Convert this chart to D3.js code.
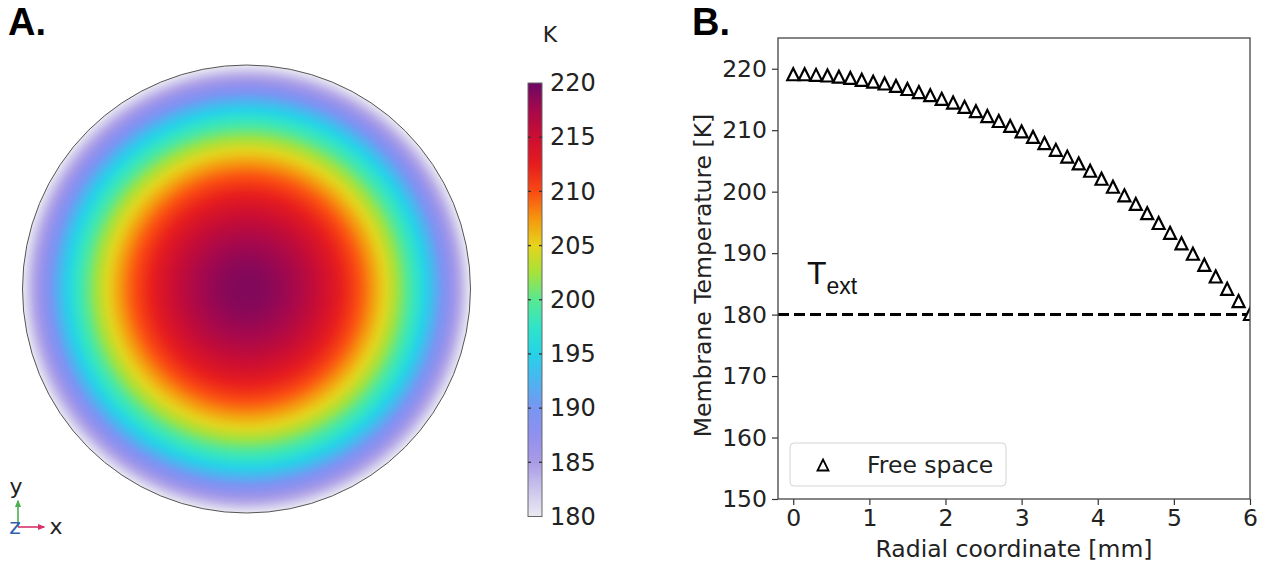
<!DOCTYPE html>
<html><head><meta charset="utf-8">
<script src="https://cdn.jsdelivr.net/npm/d3@7/dist/d3.min.js"></script>
<style>
body{margin:0;background:#fff;}
svg{display:block;font-family:'DejaVu Sans',sans-serif;}
</style>
</head><body>
<svg id="c" width="1279" height="569"></svg>
<script>
// ---------- data ----------
const radialCoord = [0,0.15,0.3,0.45,0.6,0.75,0.9,1.05,1.2,1.35,1.5,1.65,1.8,1.95,2.1,2.25,2.4,2.55,2.7,2.85,3.0,3.15,3.3,3.45,3.6,3.75,3.9,4.05,4.2,4.35,4.5,4.65,4.8,4.95,5.1,5.25,5.4,5.55,5.7,5.85,6.0];
const membraneTemp = [219.1,219.1,219.0,218.9,218.7,218.5,218.2,217.9,217.6,217.2,216.7,216.2,215.7,215.1,214.5,213.8,213.1,212.3,211.5,210.7,209.8,208.9,207.9,206.8,205.7,204.6,203.4,202.1,200.8,199.4,198.0,196.5,194.9,193.3,191.6,189.9,188.1,186.2,184.2,182.2,180.1];
const externalTemp = 180;
const seriesName = "Free space";
const xTicks = [0,1,2,3,4,5,6];
const yTicks = [150,160,170,180,190,200,210,220];
const cbarTicks = [180,185,190,195,200,205,210,215,220];
const cmapValues = [180,182.5,185,187.5,190,192.5,195,197.5,200,202.5,205,207.5,210,212.5,215,217.5,220];
const cmapColors = ["#ebeaf2","#cbc5ec","#a99be6","#9190ee","#7896f2","#4cb4f0","#26d2e8","#30e4c8","#58e892","#a6e23a","#e6d41c","#f6960e","#fa4a12","#e61c1e","#cc0e32","#a6084c","#6c0864"];

// ---------- setup ----------
const svg = d3.select('#c');
const defs = svg.append('defs');
const color = d3.scaleLinear().domain(cmapValues).range(cmapColors).clamp(true);
const FS = 23.5;

// ---------- Panel A ----------
svg.append('text').attr('x',8).attr('y',35).attr('font-family','Liberation Sans, Arial, sans-serif')
  .attr('font-weight','bold').attr('font-size',38).text('A.');

const cx = 246.5, cy = 289, R = 224;
const rOffset = d3.scaleLinear().domain([0,6]).range([0,1]);
const rg = defs.append('radialGradient').attr('id','disc').attr('cx','50%').attr('cy','50%').attr('r','50%');
rg.selectAll('stop').data(radialCoord).join('stop')
  .attr('offset', d => rOffset(d))
  .attr('stop-color', (d,i) => color(membraneTemp[i]));
svg.append('circle').attr('cx',cx).attr('cy',cy).attr('r',R)
  .attr('fill','url(#disc)').attr('stroke','#555').attr('stroke-width',1);

// colorbar
const cbX = 528, cbW = 14;
const cbY = d3.scaleLinear().domain([180,220]).range([516.5,83]);
const lg = defs.append('linearGradient').attr('id','cbar').attr('x1',0).attr('y1',1).attr('x2',0).attr('y2',0);
lg.selectAll('stop').data(cmapValues).join('stop')
  .attr('offset', d => (d-180)/40).attr('stop-color', d => color(d));
svg.append('rect').attr('x',cbX).attr('y',cbY(220)).attr('width',cbW).attr('height',cbY(180)-cbY(220))
  .attr('fill','url(#cbar)').attr('stroke','#666').attr('stroke-width',1);
const cbAxis = svg.append('g').attr('transform',`translate(${cbX+cbW},0)`)
  .call(d3.axisRight(cbY).tickValues(cbarTicks).tickSize(0).tickPadding(8));
cbAxis.select('.domain').remove();
cbAxis.selectAll('text').attr('font-size',24).attr('fill','#222').attr('font-family','DejaVu Sans');
const innerTicks = cbarTicks.slice(1,-1);
svg.append('g').selectAll('line').data(innerTicks).join('line')
  .attr('x1',cbX).attr('x2',cbX+3).attr('y1',d=>cbY(d)).attr('y2',d=>cbY(d)).attr('stroke','#333').attr('stroke-width',1.3);
svg.append('g').selectAll('line').data(innerTicks).join('line')
  .attr('x1',cbX+cbW-3).attr('x2',cbX+cbW).attr('y1',d=>cbY(d)).attr('y2',d=>cbY(d)).attr('stroke','#333').attr('stroke-width',1.3);
svg.append('text').attr('x',550).attr('y',42).attr('font-size',22).attr('text-anchor','middle').attr('fill','#222').text('K');

// triad
const mk = (id,col)=>defs.append('marker').attr('id',id).attr('viewBox','0 0 10 10').attr('refX',8).attr('refY',5)
  .attr('markerWidth',5).attr('markerHeight',5).attr('orient','auto')
  .append('path').attr('d','M0,1L10,5L0,9Z').attr('fill',col);
mk('ag','#4caf50'); mk('ar','#d6336c');
svg.append('line').attr('x1',18).attr('y1',527).attr('x2',18).attr('y2',501).attr('stroke','#4caf50').attr('stroke-width',1.6).attr('marker-end','url(#ag)');
svg.append('line').attr('x1',18).attr('y1',527).attr('x2',44).attr('y2',527).attr('stroke','#d6336c').attr('stroke-width',1.6).attr('marker-end','url(#ar)');
svg.append('text').attr('x',16).attr('y',494).attr('font-size',22).attr('text-anchor','middle').attr('fill','#222').text('y');
svg.append('text').attr('x',15).attr('y',534).attr('font-size',22).attr('text-anchor','middle').attr('fill','#2f5fb0').text('z');
svg.append('text').attr('x',56).attr('y',534).attr('font-size',22).attr('text-anchor','middle').attr('fill','#222').text('x');

// ---------- Panel B ----------
svg.append('text').attr('x',692).attr('y',35).attr('font-family','Liberation Sans, Arial, sans-serif')
  .attr('font-weight','bold').attr('font-size',38).text('B.');

const L = 778, Rt = 1250, T = 38, B = 499;
const x = d3.scaleLinear().domain([-0.2,6]).range([L,Rt]);
const y = d3.scaleLinear().domain([150,225]).range([B,T]);

defs.append('clipPath').attr('id','plot').append('rect').attr('x',L).attr('y',T).attr('width',Rt-L).attr('height',B-T);

const plot = svg.append('g').attr('clip-path','url(#plot)');
plot.append('line').attr('x1',L).attr('x2',Rt).attr('y1',y(externalTemp)).attr('y2',y(externalTemp))
  .attr('stroke','#000').attr('stroke-width',3).attr('stroke-dasharray','11,5');

const tri = h => `M0,${-h}L${h},${h}L${-h},${h}Z`;
plot.selectAll('path.pt').data(radialCoord).join('path').attr('class','pt')
  .attr('d', tri(6))
  .attr('transform',(d,i)=>`translate(${x(d)},${y(membraneTemp[i])})`)
  .attr('fill','#fff').attr('stroke','#000').attr('stroke-width',2.2).attr('stroke-linejoin','miter');

// axes
const xAx = svg.append('g').attr('transform',`translate(0,${B})`)
  .call(d3.axisBottom(x).tickValues(xTicks).tickFormat(d3.format('d')).tickSize(6).tickPadding(4));
const yAx = svg.append('g').attr('transform',`translate(${L},0)`)
  .call(d3.axisLeft(y).tickValues(yTicks).tickFormat(d3.format('d')).tickSize(6).tickPadding(5));
[xAx,yAx].forEach(a=>{
  a.select('.domain').remove();
  a.selectAll('line').attr('stroke','#333').attr('stroke-width',1.2);
  a.selectAll('text').attr('font-size',FS).attr('fill','#222').attr('font-family','DejaVu Sans');
});
svg.append('rect').attr('x',L).attr('y',T).attr('width',Rt-L).attr('height',B-T)
  .attr('fill','none').attr('stroke','#444').attr('stroke-width',1.3);

svg.append('text').attr('x',(L+Rt)/2).attr('y',557).attr('text-anchor','middle').attr('font-size',FS).attr('fill','#222')
  .text('Radial coordinate [mm]');
svg.append('text').attr('transform',`translate(711,${(T+B)/2+7}) rotate(-90)`).attr('text-anchor','middle')
  .attr('font-size',FS).attr('fill','#222').text('Membrane Temperature [K]');

// T_ext label
const te = svg.append('text').attr('x',807).attr('y',284).attr('font-family','Liberation Sans, Arial, sans-serif').attr('fill','#111');
te.append('tspan').attr('font-size',32).text('T');
te.append('tspan').attr('font-size',23).attr('dy',10).text('ext');

// legend
svg.append('rect').attr('x',790).attr('y',443).attr('width',216).attr('height',43).attr('rx',4)
  .attr('fill','#fff').attr('fill-opacity',0.85).attr('stroke','#d4d4d4').attr('stroke-width',1);
svg.append('path').attr('d',tri(5.5)).attr('transform','translate(823,465)')
  .attr('fill','#fff').attr('stroke','#000').attr('stroke-width',1.8);
svg.append('text').attr('x',867).attr('y',465).attr('dy','0.35em').attr('font-size',FS).attr('fill','#222').text(seriesName);
</script>
</body></html>
